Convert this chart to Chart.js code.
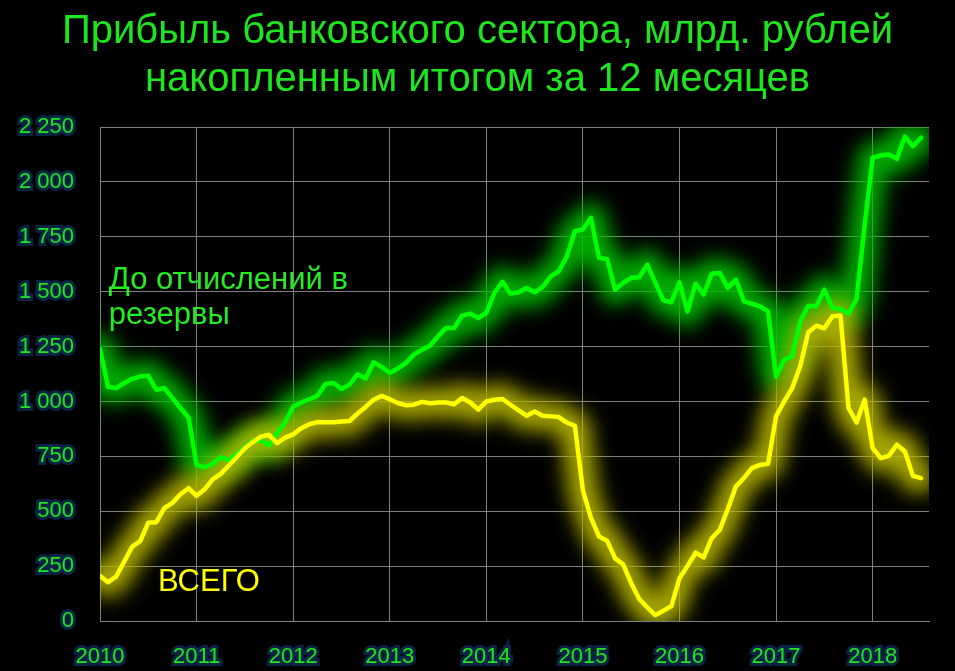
<!DOCTYPE html>
<html>
<head>
<meta charset="utf-8">
<script src="https://cdn.jsdelivr.net/npm/chart.js@4"></script>
<style>
  html, body { margin: 0; padding: 0; background: #000; }
  #wrap { width: 955px; height: 671px; }
</style>
</head>
<body>
<div id="wrap"><canvas id="profitChart"></canvas></div>
<script>
/* Data: monthly values, Jan 2010 .. Jul 2018 */

const startYear = 2010;
const yearTicks = [2010, 2011, 2012, 2013, 2014, 2015, 2016, 2017, 2018];

// До отчислений в резервы
const beforeReserves = [
    1240, 1066, 1061, 1084, 1103, 1114, 1117, 1053, 1061, 1015, 970, 926,
    711, 700, 715, 746, 732, 760, 790, 822, 822, 800, 855, 905,
    977, 995, 1010, 1025, 1080, 1084, 1057, 1076, 1124, 1105, 1178, 1157,
    1130, 1150, 1175, 1213, 1236, 1254, 1297, 1335, 1335, 1391, 1400, 1380,
    1403, 1494, 1545, 1491, 1497, 1517, 1497, 1522, 1570, 1593, 1661, 1775,
    1783, 1836, 1654, 1649, 1509, 1540, 1563, 1566, 1623, 1540, 1461, 1452,
    1543, 1410, 1537, 1487, 1582, 1585, 1517, 1555, 1456, 1445, 1433, 1410,
    1114, 1190, 1205, 1365, 1436, 1433, 1509, 1426, 1421, 1400, 1467, 1800,
    2110, 2120, 2125, 2105, 2206, 2163, 2201
];

// ВСЕГО
const total = [
    205, 177, 202, 270, 339, 364, 448, 450, 514, 538, 577, 605,
    570, 600, 645, 670, 708, 747, 787, 815, 840, 848, 810, 835,
    850, 878, 896, 906, 905, 905, 909, 911, 945, 975, 1008, 1025,
    1010, 993, 983, 985, 998, 992, 995, 995, 987, 1016, 995, 963,
    1000, 1008, 1011, 985, 959, 935, 954, 935, 932, 929, 904, 889,
    595, 470, 385, 366, 285, 258, 172, 100, 62, 27, 47, 68,
    195, 251, 311, 290, 377, 415, 510, 612, 651, 696, 711, 716,
    932, 1000, 1061, 1160, 1315, 1345, 1333, 1388, 1391, 970, 904, 1008,
    788, 742, 752, 803, 772, 661, 651
];

const yTicks = [0, 250, 500, 750, 1000, 1250, 1500, 1750, 2000, 2250];

const titleLines = [
    "Прибыль банковского сектора, млрд. рублей",
    "накопленным итогом за 12 месяцев"
];


/* Helpers */

const toPoints = arr => arr.map((v, i) => ({ x: i, y: v }));

const fmtThousands = v => v >= 1000
    ? Math.floor(v / 1000) + " " + String(v % 1000).padStart(3, "0")
    : String(v);

const FONT = "'Liberation Sans', Arial, sans-serif";
const GREEN = "#00ff00";
const TEXT_GREEN = "#1ee61e";
const YELLOW = "#ffff00";


/* Plugins */

// soft blur for the wide glow datasets
const glowPlugin = {
    id: "glow",
    beforeDatasetDraw(chart, args) {
        const ds = chart.data.datasets[args.index];
        if (ds.glow) {
            chart.ctx.save();
            chart.ctx.filter = "blur(" + ds.glow + "px)";
        }
    },
    afterDatasetDraw(chart, args) {
        if (chart.data.datasets[args.index].glow) chart.ctx.restore();
    }
};

// series names written inside the plot
const seriesLabels = [
    { lines: ["До отчислений в", "резервы"], x: 1.1, y: 1510, step: 35, color: "#22ee22" },
    { lines: ["ВСЕГО"], x: 7.2, y: 137, step: 0, color: YELLOW }
];

const labelPlugin = {
    id: "seriesLabels",
    afterDatasetsDraw(chart) {
        const ctx = chart.ctx;
        const xs = chart.scales.x, ys = chart.scales.y;
        ctx.save();
        ctx.font = "31px " + FONT;
        ctx.textAlign = "left";
        ctx.textBaseline = "alphabetic";
        seriesLabels.forEach(lab => {
            ctx.fillStyle = lab.color;
            const px = xs.getPixelForValue(lab.x);
            const py = ys.getPixelForValue(lab.y);
            lab.lines.forEach((t, k) => ctx.fillText(t, px, py + k * lab.step));
        });
        ctx.restore();
    }
};


/* Chart */

const ctx = document.getElementById("profitChart");

const tickFont = { family: FONT, size: 22 };

new Chart(ctx, {

    type: "line",

    data: {
        datasets: [
            {
                label: "ВСЕГО",
                data: toPoints(total),
                borderColor: YELLOW,
                borderWidth: 4.5
            },
            {
                label: "До отчислений в резервы",
                data: toPoints(beforeReserves),
                borderColor: GREEN,
                borderWidth: 4.5
            },
            {
                label: "glow total",
                data: toPoints(total),
                borderColor: "rgba(185,185,0,0.9)",
                borderWidth: 30,
                glow: 10
            },
            {
                label: "glow before",
                data: toPoints(beforeReserves),
                borderColor: "rgba(0,190,0,0.9)",
                borderWidth: 30,
                glow: 10
            }
        ]
    },

    options: {
        responsive: true,
        maintainAspectRatio: false,
        animation: false,
        layout: { padding: 0 },
        elements: {
            point: { radius: 0 },
            line: { tension: 0, borderJoinStyle: "round", borderCapStyle: "round", fill: false }
        },
        plugins: {
            legend: { display: false },
            tooltip: { enabled: false },
            title: {
                display: true,
                text: titleLines,
                color: TEXT_GREEN,
                font: { family: FONT, size: 40, weight: "normal", lineHeight: 1.2 },
                padding: { top: 8, bottom: 23 }
            }
        },
        scales: {
            x: {
                type: "linear",
                min: 0,
                max: 103,
                afterBuildTicks: s => {
                    s.ticks = yearTicks.map(y => ({ value: (y - startYear) * 12 }));
                },
                afterFit: s => { s.height = 50; },
                grid: { color: "#7f7f7f", lineWidth: 1, drawTicks: false },
                border: { color: "#7f7f7f", width: 1 },
                ticks: {
                    padding: 23,
                    color: TEXT_GREEN,
                    font: tickFont,
                    textStrokeColor: "rgba(12,42,80,0.85)",
                    textStrokeWidth: 6,
                    maxRotation: 0,
                    callback: v => String(startYear + v / 12)
                }
            },
            y: {
                min: 0,
                max: 2250,
                afterBuildTicks: s => {
                    s.ticks = yTicks.map(v => ({ value: v }));
                },
                afterFit: s => { s.width = 100; },
                grid: { color: "#7f7f7f", lineWidth: 1, drawTicks: false },
                border: { color: "#7f7f7f", width: 1 },
                ticks: {
                    padding: 26,
                    color: TEXT_GREEN,
                    font: tickFont,
                    textStrokeColor: "rgba(12,42,80,0.85)",
                    textStrokeWidth: 6,
                    callback: v => fmtThousands(v)
                }
            },
            // empty right margin, keeps the title centred on the page
            yRight: {
                position: "right",
                min: 0,
                max: 2250,
                afterFit: s => { s.width = 26; },
                grid: { display: false, drawTicks: false },
                border: { display: false },
                ticks: { display: false }
            }
        }
    },

    plugins: [glowPlugin, labelPlugin]

});
</script>
</body>
</html>
